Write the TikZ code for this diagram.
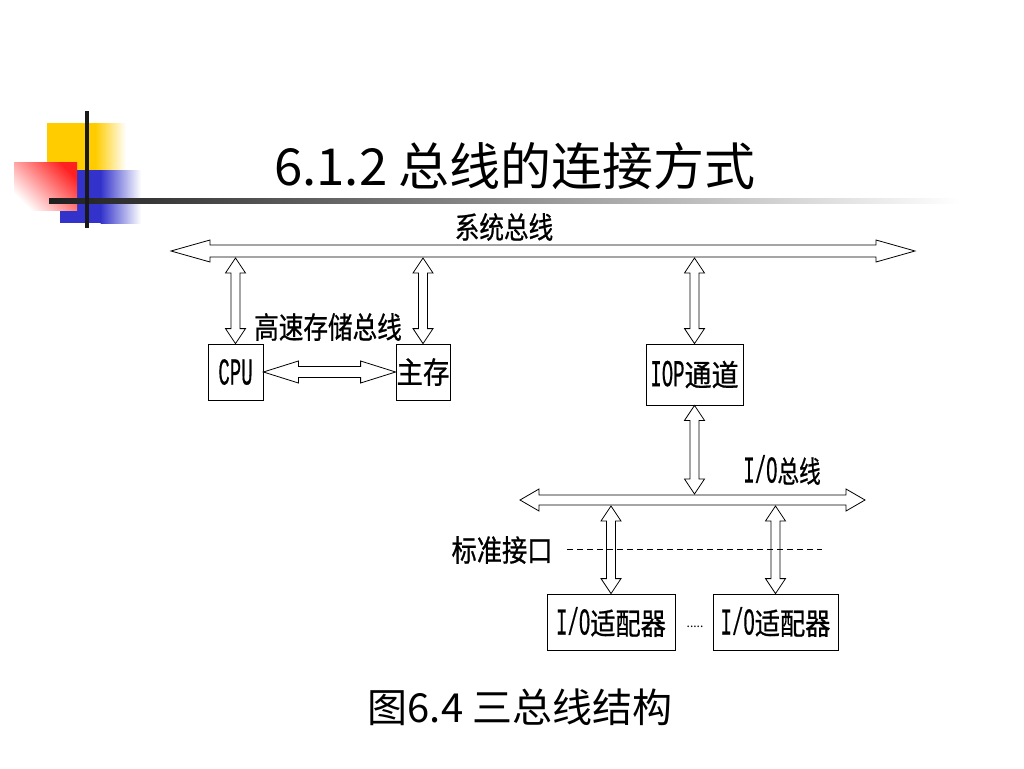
\documentclass[tikz,border=0pt]{standalone}
\usepackage{fontspec}
\setmainfont{Noto Sans CJK SC}
\newfontfamily\cjkf[FakeBold=0.8]{Noto Sans CJK SC}
\newfontfamily\latf[FakeBold=0.5]{Liberation Mono}
\usetikzlibrary{calc}
% condensed CJK text: #1 x-scale, #2 text
\newcommand\cj[2]{\scalebox{#1}[1]{\fontsize{30}{30}\cjkf #2}}
% condensed Latin text
\newcommand\lat[1]{\scalebox{0.5}[1]{\fontsize{38}{38}\latf #1}}
% horizontal hollow double arrow: #1 left tip, #2 right tip, #3 shaft half, #4 head half, #5 head length
\newcommand\hbus[5]{%
 \draw[bus] let \p1=(#1), \p2=(#2) in
  (\x1,\y1) -- (\x1+#5,\y1+#4) -- (\x1+#5,\y1+#3) -- (\x2-#5,\y2+#3) -- (\x2-#5,\y2+#4)
  -- (\x2,\y2) -- (\x2-#5,\y2-#4) -- (\x2-#5,\y2-#3) -- (\x1+#5,\y1-#3) -- (\x1+#5,\y1-#4) -- cycle;}
% vertical hollow double arrow: #1 top tip, #2 bottom tip
\newcommand\vbus[5]{%
 \draw[bus] let \p1=(#1), \p2=(#2) in
  (\x1,\y1) -- (\x1+#4,\y1-#5) -- (\x1+#3,\y1-#5) -- (\x2+#3,\y2+#5) -- (\x2+#4,\y2+#5)
  -- (\x2,\y2) -- (\x2-#4,\y2+#5) -- (\x2-#3,\y2+#5) -- (\x1-#3,\y1-#5) -- (\x1-#4,\y1-#5) -- cycle;}
\tikzset{
 bus/.style={draw=black, line width=0.8pt, fill=white, line join=miter},
 box/.style={draw=black, line width=0.8pt, fill=white, inner sep=0pt},
 lbl/.style={inner sep=0pt},
}
\definecolor{decoyellow}{HTML}{FFCC00}
\definecolor{decoblue}{HTML}{3333CC}
\definecolor{decored}{HTML}{FF2020}
\begin{document}
\begin{tikzpicture}[x=1pt,y=-1pt]
\useasboundingbox[fill=white] (0,0) rectangle (1024,768);
% decoration
\fill[decoyellow] (47,123) rectangle (96,193);
\shade[left color=decoyellow, right color=white] (95.5,123) rectangle (126,193);
\fill[decoblue] (60,170) rectangle (101,223);
\shade[left color=decoblue, right color=white] (100.5,170) rectangle (141,223);
\shade[top color=decored, bottom color=white, shading angle=-45] (14,162) rectangle (77,210);
\shade[left color=black!88, middle color=black!70, right color=white] (49,198.5) rectangle (960,203.5);
\fill[black!90] (85,111) rectangle (89,228);
% title
\node[font=\fontsize{51}{51}\selectfont, inner sep=0pt] (title) at (515,166) {6.1.2 总线的连接方式};
% coordinates for buses
\coordinate (sysL) at (171,251);
\coordinate (sysR) at (915,251);
\coordinate (sysbot) at (0,258);
\coordinate (ioL) at (520,500);
\coordinate (ioR) at (865,500);
\coordinate (iotop) at (0,494);
\coordinate (iobot) at (0,506);
% boxes
\node[box, minimum width=55pt, minimum height=56pt] (cpu) at (235.5,372) {\lat{CPU}};
\node[box, minimum width=54pt, minimum height=56pt] (mem) at (423,372) {\cj{0.88}{主存}};
\node[box, minimum width=97pt, minimum height=61pt] (iop) at (694.5,374.5) {\lat{IOP}\cj{0.9}{通道}};
\node[box, minimum width=128pt, minimum height=56pt] (ad1) at (611,622) {\lat{I/O}\cj{0.84}{适配器}};
\node[box, minimum width=125pt, minimum height=56pt] (ad2) at (775.5,622) {\lat{I/O}\cj{0.84}{适配器}};
\node[font=\fontsize{12}{12}\selectfont, inner sep=0pt, anchor=base] (dots) at (695,627) {.....};
% buses
\hbus{sysL}{sysR}{6pt}{11pt}{39pt}
\hbus{ioL}{ioR}{5pt}{11pt}{19pt}
\hbus{cpu.east}{mem.west}{5.5pt}{11pt}{35pt}
\vbus{cpu.north |- sysbot}{cpu.north}{4.5pt}{10pt}{15pt}
\vbus{mem.north |- sysbot}{mem.north}{4.5pt}{10pt}{15pt}
\vbus{iop.north |- sysbot}{iop.north}{4.5pt}{10pt}{15pt}
\vbus{iop.south}{iop.south |- iotop}{4.5pt}{10pt}{15pt}
\vbus{ad1.north |- iobot}{ad1.north}{4.5pt}{10pt}{15pt}
\vbus{ad2.north |- iobot}{ad2.north}{4.5pt}{10pt}{15pt}
% labels
\node[lbl] (sysl) at (504,227) {\cj{0.82}{系统总线}};
\node[lbl] (hsl) at (328,327) {\cj{0.82}{高速存储总线}};
\node[lbl] (iol) at (782,470) {\lat{I/O}\cj{0.72}{总线}};
\node[lbl] (stdl) at (502,550) {\cj{0.84}{标准接口}};
\coordinate (dashL) at (567,549);
\coordinate (dashR) at (822,549);
\draw[line width=0.6pt, dash pattern=on 6pt off 4pt] (dashL) -- (dashR);
% caption
\node[font=\fontsize{40}{40}\selectfont, inner sep=0pt] (cap) at (520,707) {图6.4 三总线结构};
\end{tikzpicture}
\end{document}
